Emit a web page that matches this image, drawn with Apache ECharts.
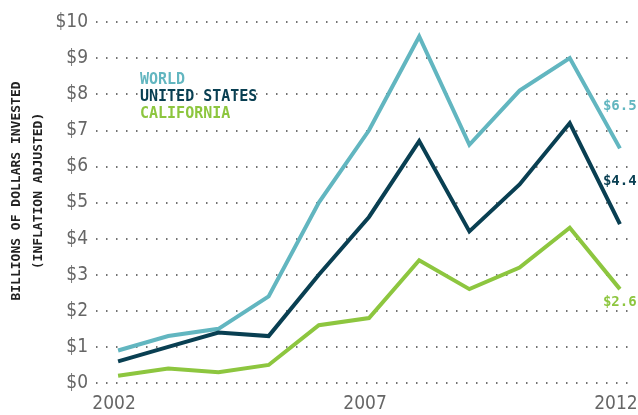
<!DOCTYPE html>
<html>
<head>
<meta charset="utf-8">
<script src="https://cdn.jsdelivr.net/npm/echarts@6/dist/echarts.min.js"></script>
<style>
  html, body { margin: 0; padding: 0; background: #fff; }
  #chart { width: 638px; height: 415px; }
</style>
</head>
<body>
<div id="chart"></div>
<script>
const years = [2002, 2003, 2004, 2005, 2006, 2007, 2008, 2009, 2010, 2011, 2012]
const world = [0.9, 1.3, 1.5, 2.4, 5.0, 7.0, 9.6, 6.6, 8.1, 9.0, 6.5]
const unitedStates = [0.6, 1.0, 1.4, 1.3, 3.0, 4.6, 6.7, 4.2, 5.5, 7.2, 4.4]
const california = [0.2, 0.4, 0.3, 0.5, 1.6, 1.8, 3.4, 2.6, 3.2, 4.3, 2.6]
const yearLabels = [2002, 2007, 2012]

const colors = { world: '#62b6c0', us: '#093f52', ca: '#8dc63f' }
const numFont = '"DejaVu Sans Condensed", "Liberation Sans Narrow", sans-serif'
const monoFont = '"DejaVu Sans Mono", monospace'

const chart = echarts.init(document.getElementById('chart'))

const endLabel = (color, offset) => ({
  show: true,
  offset,
  distance: 5,
  formatter: p => '$' + p.value[1].toFixed(1),
  color,
  fontFamily: monoFont,
  fontWeight: 'bold',
  fontSize: 14,
})

const lineSeries = (name, values, color, offset) => ({
  name,
  type: 'line',
  data: values.map((v, i) => [years[i], v]),
  showSymbol: false,
  symbol: 'none',
  lineStyle: { color, width: 4, join: 'miter' },
  itemStyle: { color },
  endLabel: endLabel(color, offset),
  emphasis: { disabled: true },
  z: 3,
})

const option = {
  animation: false,
  grid: { left: 96, right: 2, top: 22, bottom: 32, outerBoundsMode: 'none' },
  legend: {
    orient: 'vertical',
    left: 130,
    top: 68,
    icon: 'none',
    itemWidth: 0,
    itemHeight: 12,
    itemGap: 2,
    selectedMode: false,
    textStyle: { fontFamily: monoFont, fontWeight: 'bold', fontSize: 15, lineHeight: 14 },
    data: [
      { name: 'WORLD', textStyle: { color: colors.world } },
      { name: 'UNITED STATES', textStyle: { color: colors.us } },
      { name: 'CALIFORNIA', textStyle: { color: colors.ca } },
    ],
  },
  graphic: [
    {
      type: 'text',
      x: 6,
      y: 191,
      rotation: Math.PI / 2,
      style: {
        text: 'BILLIONS OF DOLLARS INVESTED\n(INFLATION ADJUSTED)',
        font: 'bold 13px ' + monoFont,
        fill: '#222',
        align: 'center',
        verticalAlign: 'top',
        lineHeight: 22,
      },
    },
  ],
  xAxis: {
    type: 'value',
    min: 2001.56,
    max: 2012.32,
    axisLine: { show: false },
    axisTick: { show: false },
    splitLine: { show: false },
    axisLabel: {
      customValues: yearLabels,
      formatter: v => String(v),
      color: '#666',
      fontFamily: numFont,
      fontSize: 19,
      margin: 12,
      padding: [0, 8, 0, 0],
    },
  },
  yAxis: {
    type: 'value',
    min: 0,
    max: 10,
    interval: 1,
    axisLine: { show: false },
    axisTick: { show: false },
    axisLabel: {
      formatter: v => '$' + v,
      color: '#666',
      fontFamily: numFont,
      fontSize: 19,
      margin: 8,
    },
    splitLine: {
      lineStyle: { color: '#444', width: 1.5, type: [1.5, 8.5] },
    },
  },
  series: [
    lineSeries('WORLD', world, colors.world, [-22, -42]),
    lineSeries('UNITED STATES', unitedStates, colors.us, [-22, -43]),
    lineSeries('CALIFORNIA', california, colors.ca, [-22, 13]),
  ],
}

chart.setOption(option)
</script>
</body>
</html>
